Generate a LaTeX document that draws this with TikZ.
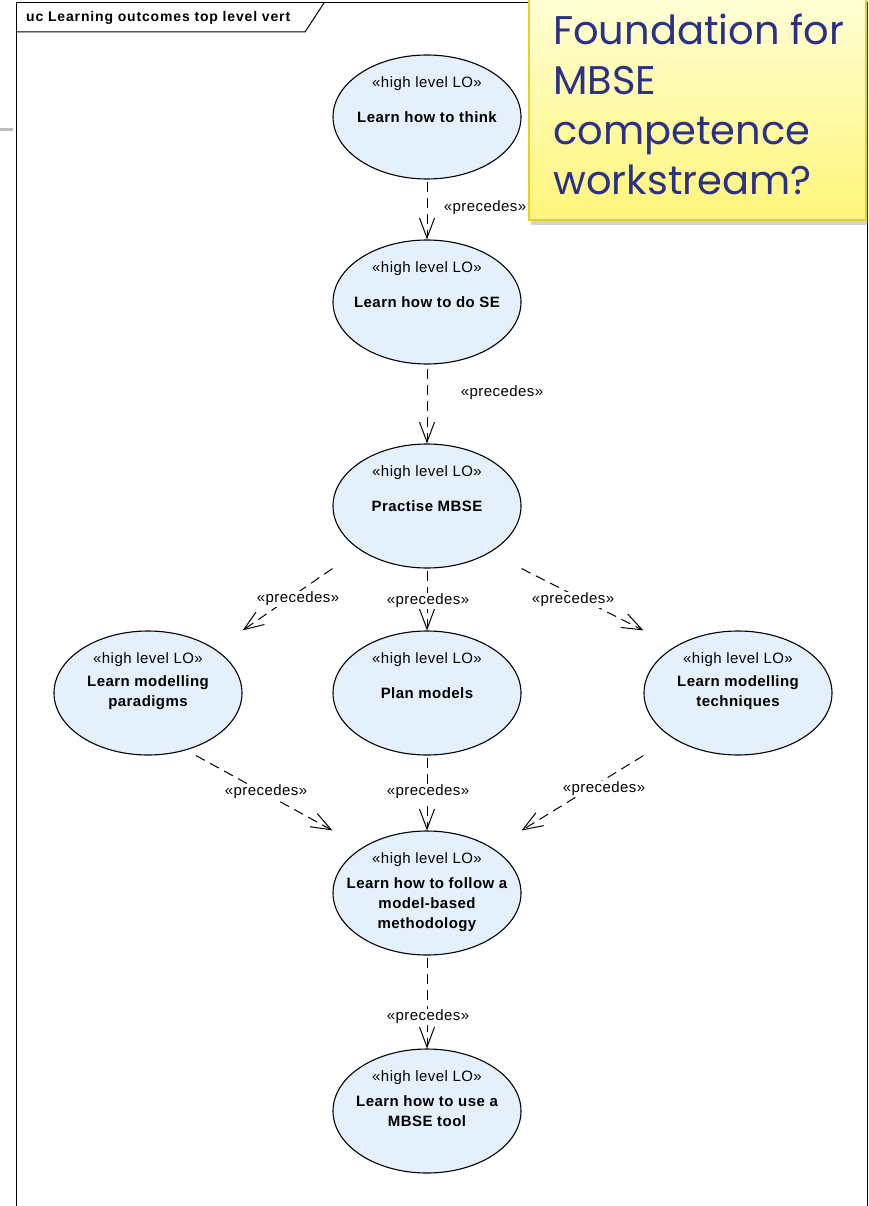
\documentclass[tikz,border=0pt]{standalone}
\usepackage{fontspec}
\setmainfont{Liberation Sans}
\newfontfamily\lofont{Liberation Sans}[LetterSpace=3]
\newfontfamily\titlefont{Liberation Sans}[LetterSpace=6]
\newfontfamily\notefont{Poppins}
\usetikzlibrary{shapes.geometric, backgrounds, arrows.meta, shadows}
\definecolor{lofill}{HTML}{E4F0FC}
\definecolor{notetop}{HTML}{FFFFD6}
\definecolor{notebot}{HTML}{FFF57A}
\definecolor{noteline}{HTML}{E6D21E}
\definecolor{noteink}{HTML}{2B3186}
\definecolor{edgegray}{HTML}{BDBDBD}
\tikzset{
  goal/.style = {
    ellipse, draw=black, line width=1.1pt, fill=lofill,
    minimum width=188pt, minimum height=124pt, inner sep=0pt
  },
  stereo/.style = {
    font=\lofont\fontsize{15}{20}\selectfont, inner sep=0pt
  },
  goalname/.style = {
    font=\lofont\bfseries\fontsize{15}{20}\selectfont,
    align=center, inner sep=0pt
  },
  deplabel/.style = {
    font=\lofont\fontsize{15}{20}\selectfont, fill=white, inner sep=1pt
  },
  dep/.style = {
    draw=black, line width=1pt, dash pattern=on 10pt off 6pt,
    -{Straight Barb[length=20pt, width=15pt, line width=1pt]}
  },
  frametitle/.style = {
    font=\titlefont\bfseries\fontsize{14}{16}\selectfont,
    anchor=west, inner sep=0pt
  }
}

\begin{document}
\begin{tikzpicture}[x=1pt, y=-1pt]
    \useasboundingbox (0,0) rectangle (869,1206);

    % ---------------------------------------------------------------- Frame
    \draw [line width=1pt] (16,1206) -- (16,3) -- (867,3) -- (867,1206);
    \draw [line width=1pt] (16,32) -- (305,32) -- (324,3);
    \node [frametitle] (title) at (26,18) {uc Learning outcomes top level vert};
    \draw [edgegray, line width=3pt] (0,130) -- (13,130);

    % ---------------------------------------------------- Learning outcomes
    \node [goal] (think)      at (427, 117) {};
    \node [goal] (dose)       at (427, 302) {};
    \node [goal] (practise)   at (427, 506) {};
    \node [goal] (paradigms)  at (148, 693) {};
    \node [goal] (plan)       at (427, 693) {};
    \node [goal] (techniques) at (738, 693) {};
    \node [goal] (follow)     at (427, 893) {};
    \node [goal] (tool)       at (427,1111) {};

    % ---------------------------------------------------------- Stereotypes
    \node [stereo] (think_st)      at ([yshift=33pt]think.center)      {«high level LO»};
    \node [stereo] (dose_st)       at ([yshift=33pt]dose.center)       {«high level LO»};
    \node [stereo] (practise_st)   at ([yshift=33pt]practise.center)   {«high level LO»};
    \node [stereo] (paradigms_st)  at ([yshift=33pt]paradigms.center)  {«high level LO»};
    \node [stereo] (plan_st)       at ([yshift=33pt]plan.center)       {«high level LO»};
    \node [stereo] (techniques_st) at ([yshift=33pt]techniques.center) {«high level LO»};
    \node [stereo] (follow_st)     at ([yshift=33pt]follow.center)     {«high level LO»};
    \node [stereo] (tool_st)       at ([yshift=33pt]tool.center)       {«high level LO»};

    % ---------------------------------------------------------------- Names
    \node [goalname] (think_nm)      at (think.center)      {Learn how to think};
    \node [goalname] (dose_nm)       at (dose.center)       {Learn how to do SE};
    \node [goalname] (practise_nm)   at (practise.center)   {Practise MBSE};
    \node [goalname] (paradigms_nm)  at (paradigms.center)  {Learn modelling\\paradigms};
    \node [goalname] (plan_nm)       at (plan.center)       {Plan models};
    \node [goalname] (techniques_nm) at (techniques.center) {Learn modelling\\techniques};
    \node [goalname] (follow_nm)     at ([yshift=-12pt]follow.center)
          {Learn how to follow a\\model-based\\methodology};
    \node [goalname] (tool_nm)       at (tool.center)       {Learn how to use a\\MBSE tool};

    % ----------------------------------------- Connectors (behind the shapes)
    \begin{scope}[on background layer]
      \draw [dep] ([yshift=-2pt]think.south)    -- (dose.north);
      \draw [dep] ([yshift=-4pt]dose.south)     -- (practise.north);
      \draw [dep] (practise.west |- practise.south) -- (paradigms.east |- paradigms.north);
      \draw [dep] ([yshift=-2pt]practise.south) -- (plan.north);
      \draw [dep] (practise.east |- practise.south) -- (techniques.west |- techniques.north);
      \draw [dep] ([xshift=48pt]paradigms.south) -- (follow.west |- follow.north);
      \draw [dep] ([yshift=-2pt]plan.south)     -- (follow.north);
      \draw [dep] (techniques.west |- techniques.south) -- (follow.east |- follow.north);
      \draw [dep] ([yshift=-2pt]follow.south)   -- (tool.north);
    \end{scope}

    % --------------------------------------------------------------- Labels
    \node [deplabel] (l_think)  at (485, 208) {«precedes»};
    \node [deplabel] (l_dose)   at (502, 393) {«precedes»};
    \node [deplabel] (l_prpar)  at (298, 599) {«precedes»};
    \node [deplabel] (l_prplan) at (428, 601) {«precedes»};
    \node [deplabel] (l_prtech) at (573, 600) {«precedes»};
    \node [deplabel] (l_parfol) at (266, 792) {«precedes»};
    \node [deplabel] (l_plafol) at (428, 792) {«precedes»};
    \node [deplabel] (l_tecfol) at (604, 789) {«precedes»};
    \node [deplabel] (l_foltoo) at (428,1017) {«precedes»};

    % ----------------------------------------------------------------- Note
    \path [draw=noteline, line width=2pt, top color=notetop, bottom color=notebot,
           drop shadow={shadow xshift=2pt, shadow yshift=-5pt, opacity=0.35}]
          (529,-4) rectangle (866,220);
    \node [anchor=north west, align=left, inner sep=0pt, text=noteink,
           font=\notefont\fontsize{40}{50}\selectfont] (notetext) at (553,14)
          {Foundation for\\MBSE\\competence\\workstream?};

\end{tikzpicture}
\end{document}
